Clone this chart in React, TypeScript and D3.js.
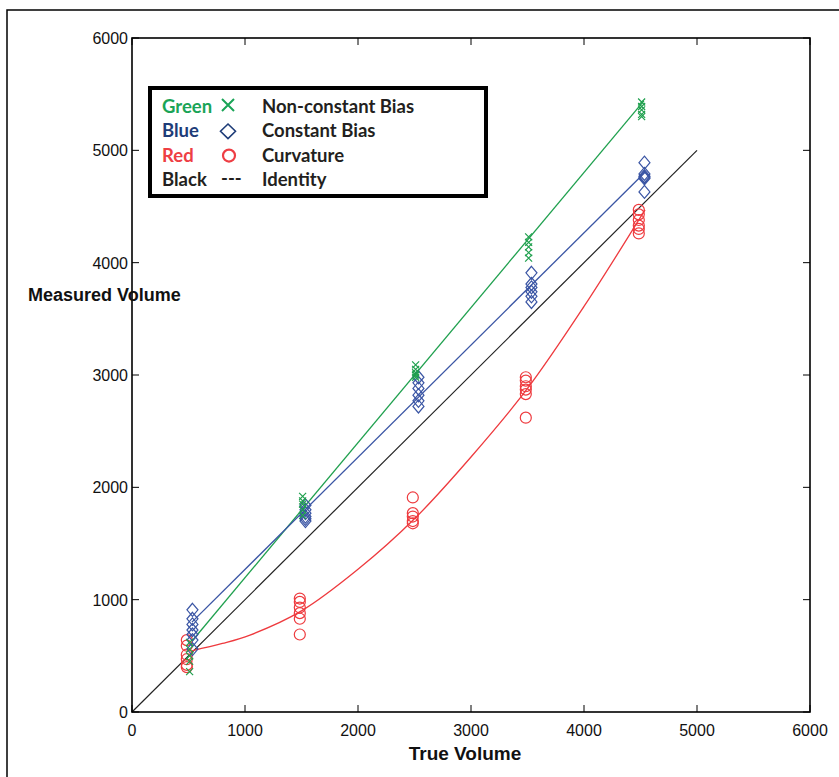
import React from "react";
import * as d3 from "d3";

const trueVolumes = [500, 1500, 2500, 3500, 4500];
const greenValues = [
  [360, 450, 500, 560, 620],
  [1920, 1880, 1850, 1800, 1750],
  [3090, 3050, 3020, 3000, 2980],
  [4230, 4180, 4140, 4090, 4040],
  [5430, 5390, 5360, 5320, 5300],
];
const blueValues = [
  [910, 830, 780, 730, 690, 640, 560],
  [1840, 1800, 1770, 1740, 1720, 1700],
  [2980, 2930, 2880, 2820, 2770, 2720],
  [3910, 3810, 3780, 3740, 3700, 3650],
  [4890, 4790, 4770, 4760, 4750, 4630],
];
const redValues = [
  [640, 590, 510, 470, 420, 400],
  [1010, 980, 930, 880, 830, 690],
  [1910, 1770, 1740, 1700, 1680],
  [2980, 2950, 2900, 2870, 2830, 2620],
  [4470, 4430, 4380, 4330, 4300, 4260],
];
const greenFit: [number, number][] = [[530, 630], [4530, 5440]];
const blueFit: [number, number][] = [[530, 800], [4545, 4810]];
const redFit: [number, number][] = [
  [530, 545], [800, 610], [1044, 685], [1500, 900], [2000, 1270], [2500, 1720],
  [3000, 2270], [3500, 2880], [4000, 3610], [4540, 4470],
];
const identity: [number, number][] = [[0, 0], [5000, 5000]];
const ticks = [0, 1000, 2000, 3000, 4000, 5000, 6000];
const legendRows = [
  { name: "Green", desc: "Non-constant Bias" },
  { name: "Blue", desc: "Constant Bias" },
  { name: "Red", desc: "Curvature" },
  { name: "Black", desc: "Identity" },
];

const C = {
  greenText: "#1aa457",
  blueText: "#1e3c78",
  redText: "#ee3e44",
  blackText: "#231f20",
  green: "#1fa04e",
  blue: "#3a55a4",
  red: "#ee3a3e",
  ident: "#222222",
};

export default function App() {
  const x = d3.scaleLinear().domain([0, 6000]).range([132, 810]);
  const y = d3.scaleLinear().domain([0, 6000]).range([712, 38]);
  const line = d3.line<[number, number]>().x((d) => x(d[0])).y((d) => y(d[1]));
  const curve = d3
    .line<[number, number]>()
    .x((d) => x(d[0]))
    .y((d) => y(d[1]))
    .curve(d3.curveCatmullRom);
  const tickFont = "'Liberation Sans', Arial, sans-serif";
  const legFont = "Lato, 'Open Sans', sans-serif";
  const legColors = [C.greenText, C.blueText, C.redText, C.blackText];

  return (
    <svg
      width={839}
      height={777}
      style={{ position: "absolute", left: 0, top: 0, display: "block", background: "#fff" }}
    >
      <rect x={7} y={10} width={900} height={900} fill="none" stroke="#000" strokeWidth={1.5} />

      {/* lines */}
      <path d={line(identity) || ""} stroke={C.ident} strokeWidth={1.2} fill="none" />
      <path d={line(greenFit) || ""} stroke={C.green} strokeWidth={1.3} fill="none" />
      <path d={line(blueFit) || ""} stroke={C.blue} strokeWidth={1.3} fill="none" />
      <path d={curve(redFit) || ""} stroke={C.red} strokeWidth={1.3} fill="none" />

      {/* points */}
      {trueVolumes.map((tv, i) =>
        redValues[i].map((v, j) => (
          <circle key={`r${i}-${j}`} cx={x(tv - 15)} cy={y(v)} r={5.5} fill="none" stroke={C.red} strokeWidth={1.2} />
        ))
      )}
      {trueVolumes.map((tv, i) =>
        blueValues[i].map((v, j) => {
          const cx = x(tv + 35);
          const cy = y(v);
          return (
            <path
              key={`b${i}-${j}`}
              d={`M${cx},${cy - 6.5}L${cx + 5.5},${cy}L${cx},${cy + 6.5}L${cx - 5.5},${cy}Z`}
              fill="none"
              stroke={C.blue}
              strokeWidth={1.2}
            />
          );
        })
      )}
      {trueVolumes.map((tv, i) =>
        greenValues[i].map((v, j) => {
          const cx = x(tv + 10);
          const cy = y(v);
          const s = 3.5;
          return (
            <path
              key={`g${i}-${j}`}
              d={`M${cx - s},${cy - s}L${cx + s},${cy + s}M${cx - s},${cy + s}L${cx + s},${cy - s}`}
              stroke={C.green}
              strokeWidth={1.2}
              fill="none"
            />
          );
        })
      )}

      {/* frame and ticks */}
      <rect x={132} y={38} width={678} height={674} fill="none" stroke="#000" strokeWidth={1.6} />
      {ticks.map((t) => (
        <g key={`t${t}`}>
          <line x1={x(t)} x2={x(t)} y1={712} y2={705} stroke="#000" strokeWidth={1} />
          <line x1={x(t)} x2={x(t)} y1={38} y2={45} stroke="#000" strokeWidth={1} />
          <line x1={132} x2={139} y1={y(t)} y2={y(t)} stroke="#000" strokeWidth={1} />
          <line x1={810} x2={803} y1={y(t)} y2={y(t)} stroke="#000" strokeWidth={1} />
          <text x={x(t)} y={736} textAnchor="middle" fontFamily={tickFont} fontSize={16} fill="#111">
            {t}
          </text>
          <text x={128} y={y(t) + 6} textAnchor="end" fontFamily={tickFont} fontSize={16} fill="#111">
            {t}
          </text>
        </g>
      ))}
      <text x={465} y={760} textAnchor="middle" fontFamily={tickFont} fontWeight="bold" fontSize={19} fill="#111">
        True Volume
      </text>
      <text x={28} y={301} fontFamily={tickFont} fontWeight="bold" fontSize={18} fill="#111">
        Measured Volume
      </text>

      {/* legend */}
      <rect x={150} y={88} width={336} height={108} fill="#fff" stroke="#000" strokeWidth={4} />
      {legendRows.map((r, i) => {
        const cy = 107 + i * 24.3;
        return (
          <g key={r.name}>
            <text x={162} y={cy + 6} fontFamily={legFont} fontWeight="bold" fontSize={18.5} fill={legColors[i]}>
              {r.name}
            </text>
            <text x={262} y={cy + 6} fontFamily={legFont} fontWeight="bold" fontSize={18.5} fill={C.blackText}>
              {r.desc}
            </text>
          </g>
        );
      })}
      <path d="M222,99L234,111M222,111L234,99" stroke={C.greenText} strokeWidth={2} fill="none" />
      <path d="M228,124L235.5,131.3L228,138.6L220.5,131.3Z" stroke={C.blueText} strokeWidth={1.6} fill="none" />
      <circle cx={229} cy={155.6} r={6} stroke={C.redText} strokeWidth={2.2} fill="none" />
      <text x={221} y={185} fontFamily={legFont} fontWeight="bold" fontSize={18.5} fill={C.blackText}>
        ---
      </text>
    </svg>
  );
}
